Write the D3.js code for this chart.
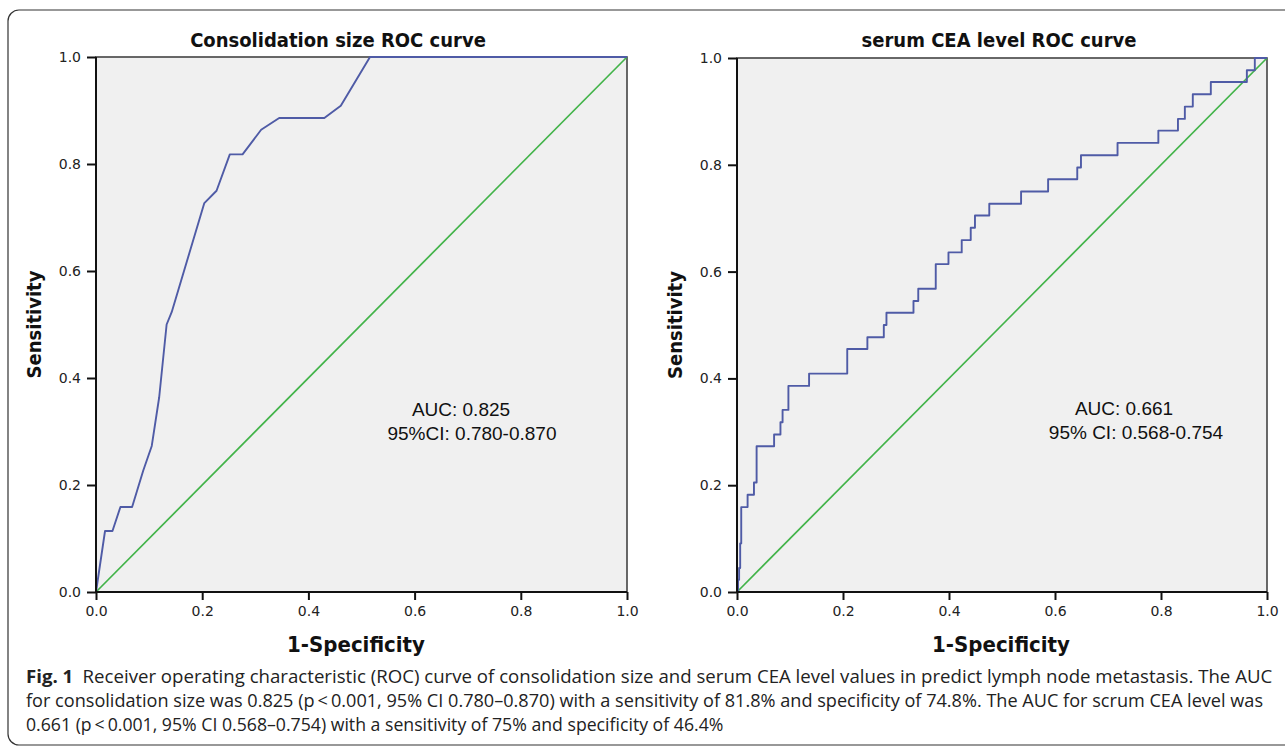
<!DOCTYPE html>
<html>
<head>
<meta charset="utf-8">
<script src="https://cdn.jsdelivr.net/npm/d3@7"></script>
<style>
    body { margin: 0; background: #fff; }
    svg { display: block; }
</style>
</head>
<body>
<div id="fig"></div>
<script>

// ticks shared by both panels
const axisTicks = [0, 0.2, 0.4, 0.6, 0.8, 1.0];

// consolidation size ROC points (SPSS joins them with straight lines)
const sizeFpr = [0, 0.017, 0.031, 0.046, 0.068, 0.089, 0.105, 0.119, 0.133, 0.1425, 0.204, 0.227, 0.252, 0.276, 0.311, 0.345, 0.430, 0.461, 0.516, 1.0];
const sizeTpr = [0, 0.114, 0.114, 0.159, 0.159, 0.227, 0.273, 0.364, 0.500, 0.523, 0.727, 0.750, 0.818, 0.818, 0.864, 0.886, 0.886, 0.909, 1.0, 1.0];

// serum CEA ROC points, each one = where the curve steps up (step after)
const ceaFpr = [0, 0.002, 0.004, 0.006, 0.008, 0.020, 0.032, 0.037, 0.070, 0.082, 0.086, 0.097, 0.136, 0.208, 0.246, 0.277, 0.282, 0.333, 0.342, 0.375, 0.399, 0.424, 0.441, 0.449, 0.476, 0.536, 0.587, 0.642, 0.649, 0.718, 0.795, 0.832, 0.845, 0.860, 0.894, 0.962, 0.977, 1.0];
const ceaTpr = [0, 0.023, 0.045, 0.091, 0.159, 0.182, 0.205, 0.273, 0.295, 0.318, 0.341, 0.386, 0.409, 0.455, 0.477, 0.500, 0.523, 0.545, 0.568, 0.614, 0.636, 0.659, 0.682, 0.705, 0.727, 0.750, 0.773, 0.795, 0.818, 0.841, 0.864, 0.886, 0.909, 0.932, 0.955, 0.977, 1.0, 1.0];

// diagonal reference line
const refLine = [0, 1];

const panelTitles = ["Consolidation size ROC curve", "serum CEA level ROC curve"];
const aucText = [
    ["AUC: 0.825", "95%CI: 0.780-0.870"],
    ["AUC: 0.661", "95% CI: 0.568-0.754"]
];

const captionLines = [
    ["Fig. 1", "Receiver operating characteristic (ROC) curve of consolidation size and serum CEA level values in predict lymph node metastasis. The AUC"],
    ["", "for consolidation size was 0.825 (p\u2009<\u20090.001, 95% CI 0.780\u20130.870) with a sensitivity of 81.8% and specificity of 74.8%. The AUC for scrum CEA level was"],
    ["", "0.661 (p\u2009<\u20090.001, 95% CI 0.568\u20130.754) with a sensitivity of 75% and specificity of 46.4%"]
];


class RocVis {

    constructor(svg, opts) {
        this.svg = svg;
        this.opts = opts;
        this.initVis();
    }

    initVis() {
        let vis = this;
        let o = vis.opts;

        vis.x = d3.scaleLinear().domain([0, 1]).range([o.left, o.right]);
        vis.y = d3.scaleLinear().domain([0, 1]).range([o.bottom, o.top]);

        vis.g = vis.svg.append("g");

        // grey plot area with thin frame
        vis.g.append("rect")
            .attr("x", vis.x(0))
            .attr("y", vis.y(1))
            .attr("width", vis.x(1) - vis.x(0))
            .attr("height", vis.y(0) - vis.y(1))
            .attr("fill", "#f0f0f0")
            .attr("stroke", "#444")
            .attr("stroke-width", 1.6);

        // reference diagonal
        vis.g.append("line")
            .attr("x1", vis.x(refLine[0])).attr("y1", vis.y(refLine[0]))
            .attr("x2", vis.x(refLine[1])).attr("y2", vis.y(refLine[1]))
            .attr("stroke", "#42b349")
            .attr("stroke-width", 1.7);

        // ROC curve
        let pts = o.fpr.map((f, i) => [f, o.tpr[i]]);
        let line = d3.line()
            .x(d => vis.x(d[0]))
            .y(d => vis.y(d[1]))
            .curve(o.step ? d3.curveStepAfter : d3.curveLinear);

        vis.g.append("path")
            .datum(pts)
            .attr("d", line)
            .attr("fill", "none")
            .attr("stroke", "#4f5ba6")
            .attr("stroke-width", 1.9)
            .attr("stroke-linejoin", "round");

        // axes
        let fmt = d3.format(".1f");
        vis.xAxis = d3.axisBottom(vis.x).tickValues(axisTicks).tickFormat(fmt).tickSize(8).tickPadding(6);
        vis.yAxis = d3.axisLeft(vis.y).tickValues(axisTicks).tickFormat(fmt).tickSize(9).tickPadding(6);

        vis.g.append("g")
            .attr("class", "axis")
            .attr("transform", `translate(0, ${o.bottom})`)
            .call(vis.xAxis);

        vis.g.append("g")
            .attr("class", "axis")
            .attr("transform", `translate(${o.left}, 0)`)
            .call(vis.yAxis);

        vis.g.selectAll(".axis path.domain").remove();
        vis.g.selectAll(".axis line").attr("stroke", "#111").attr("stroke-width", 2);
        vis.g.selectAll(".axis text")
            .style("font-family", "DejaVu Sans")
            .style("font-size", "14px")
            .attr("fill", "#222");

        // dark axis lines on left and bottom
        vis.g.append("line")
            .attr("x1", vis.x(0)).attr("x2", vis.x(0))
            .attr("y1", vis.y(1)).attr("y2", vis.y(0))
            .attr("stroke", "#111").attr("stroke-width", 2);
        vis.g.append("line")
            .attr("x1", vis.x(0)).attr("x2", vis.x(1))
            .attr("y1", vis.y(0)).attr("y2", vis.y(0))
            .attr("stroke", "#111").attr("stroke-width", 2);

        // titles
        vis.g.append("text")
            .attr("x", o.titleX)
            .attr("y", 47)
            .attr("text-anchor", "middle")
            .style("font-family", "DejaVu Sans Condensed")
            .style("font-weight", "bold")
            .style("font-size", "20px")
            .attr("fill", "#111")
            .text(o.title);

        vis.g.append("text")
            .attr("x", o.xTitleX)
            .attr("y", 652)
            .attr("text-anchor", "middle")
            .style("font-family", "DejaVu Sans Condensed")
            .style("font-weight", "bold")
            .style("font-size", "22px")
            .attr("fill", "#111")
            .text("1-Specificity");

        vis.g.append("text")
            .attr("transform", `translate(${o.left - 55}, ${(o.top + o.bottom) / 2}) rotate(-90)`)
            .attr("text-anchor", "middle")
            .style("font-family", "DejaVu Sans Condensed")
            .style("font-weight", "bold")
            .style("font-size", "20px")
            .attr("fill", "#111")
            .text("Sensitivity");

        // AUC note
        o.auc.forEach((t, i) => {
            vis.g.append("text")
                .attr("x", o.aucX[i])
                .attr("y", o.aucY + i * 24)
                .attr("text-anchor", "middle")
                .style("font-family", "Liberation Sans")
                .style("font-size", "19px")
                .attr("fill", "#111")
                .text(t);
        });
    }
}


let svg = d3.select("#fig").append("svg")
    .attr("width", 1285)
    .attr("height", 749);

// rounded frame around the whole figure (runs off the right edge)
svg.append("rect")
    .attr("x", 8)
    .attr("y", 10)
    .attr("width", 1300)
    .attr("height", 735)
    .attr("rx", 11)
    .attr("fill", "none")
    .attr("stroke", "#333")
    .attr("stroke-width", 1.2);

new RocVis(svg, {
    left: 96, right: 627, top: 57, bottom: 592,
    fpr: sizeFpr, tpr: sizeTpr, step: false,
    title: panelTitles[0], titleX: 338, xTitleX: 356,
    auc: aucText[0], aucX: [461, 472], aucY: 416
});

new RocVis(svg, {
    left: 737, right: 1267, top: 58, bottom: 592,
    fpr: ceaFpr, tpr: ceaTpr, step: true,
    title: panelTitles[1], titleX: 999, xTitleX: 1001,
    auc: aucText[1], aucX: [1124, 1136], aucY: 415
});

// caption, stretched to the width it has in the figure
let capWidths = [1238, 1238, 698];
captionLines.forEach((ln, i) => {
    let t = svg.append("text")
        .attr("x", 0)
        .attr("y", 0)
        .style("font-family", "Open Sans")
        .style("font-size", "18px")
        .attr("fill", "#222");
    if (ln[0]) {
        t.append("tspan").style("font-weight", "bold").text(ln[0]);
        t.append("tspan").attr("dx", 9).text(ln[1]);
    } else {
        t.append("tspan").text(ln[1]);
    }
    let w = t.node().getComputedTextLength();
    t.attr("transform", `translate(26, ${683 + i * 24}) scale(${capWidths[i] / w}, 1)`);
});

</script>
</body>
</html>
